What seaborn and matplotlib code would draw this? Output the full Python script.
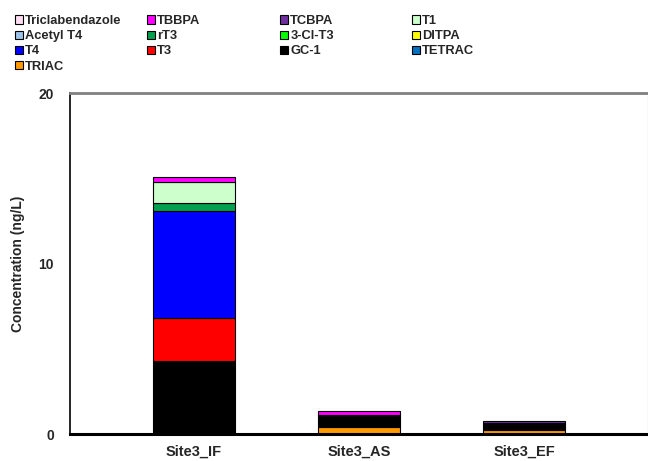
import matplotlib
matplotlib.use("Agg")
import matplotlib.pyplot as plt
import matplotlib.patches as mpatches
import numpy as np
import pandas as pd
import seaborn as sns

sites = ["Site3_IF", "Site3_AS", "Site3_EF"]

# Concentrations (ng/L) per compound at each site
triclabendazole = [0.0, 0.0, 0.0]
tbbpa = [0.31, 0.27, 0.0]
tcbpa = [0.0, 0.0, 0.12]
t1 = [1.21, 0.07, 0.0]
acetyl_t4 = [0.0, 0.0, 0.0]
rt3 = [0.50, 0.0, 0.0]
cl_t3 = [0.0, 0.0, 0.0]
ditpa = [0.0, 0.0, 0.0]
t4 = [6.28, 0.0, 0.0]
t3 = [2.52, 0.0, 0.0]
gc1 = [4.26, 0.62, 0.43]
tetrac = [0.0, 0.0, 0.0]
triac = [0.0, 0.41, 0.23]

compounds = ["Triclabendazole", "TBBPA", "TCBPA", "T1", "Acetyl T4", "rT3",
             "3-Cl-T3", "DITPA", "T4", "T3", "GC-1", "TETRAC", "TRIAC"]
series = [triclabendazole, tbbpa, tcbpa, t1, acetyl_t4, rt3,
          cl_t3, ditpa, t4, t3, gc1, tetrac, triac]
colors = ["#FFDDF4", "#FF00FF", "#7030A0", "#CCFFCC", "#9DC3E6", "#00A050",
          "#00FF00", "#FFFF00", "#0000FF", "#FF0000", "#000000", "#0070C0",
          "#FF9900"]

sns.set_style("white")
plt.rcParams["font.family"] = ["Liberation Sans", "DejaVu Sans"]
plt.rcParams["font.weight"] = "bold"

fig = plt.figure(figsize=(6.48, 4.61), dpi=100)
ax = fig.add_axes([70 / 648, 27 / 461, 578 / 648, 341 / 461])

# Stack from the bottom of the legend upwards
bottom = np.zeros(len(sites))
for name, vals, col in reversed(list(zip(compounds, series, colors))):
    vals = np.asarray(vals, dtype=float)
    mask = vals > 0
    if mask.any():
        df = pd.DataFrame({"site": np.array(sites)[mask], "value": vals[mask]})
        sns.barplot(data=df, x="site", y="value", order=sites, color=col,
                    width=0.5, bottom=bottom[mask], edgecolor="black",
                    linewidth=0.8, saturation=1, errorbar=None, ax=ax)
    bottom = bottom + vals

ax.set_xlim(-0.75, 2.75)
ax.set_ylim(0, 20)
ax.set_yticks([0, 10, 20])
ax.set_xlabel("")
ax.set_ylabel("Concentration (ng/L)", fontsize=10, fontweight="bold", labelpad=10)
ax.tick_params(axis="y", length=0, pad=11.5, labelsize=10)
ax.tick_params(axis="x", length=0, pad=8, labelsize=10.5)
for lab in ax.get_xticklabels() + ax.get_yticklabels():
    lab.set_fontweight("bold")

ax.spines["left"].set_color("black")
ax.spines["left"].set_linewidth(1.2)
ax.spines["bottom"].set_color("black")
ax.spines["bottom"].set_linewidth(2.2)
ax.spines["top"].set_color("#808080")
ax.spines["top"].set_linewidth(2.0)
ax.spines["right"].set_color("#E0E0E0")
ax.spines["right"].set_linewidth(1.0)

# Legend laid out as four fixed-width columns
ncol = 4
col_x = [15, 147, 280, 412]
for c in range(ncol):
    idx = list(range(c, len(compounds), ncol))
    handles = [mpatches.Patch(facecolor=colors[i], edgecolor="black",
                              linewidth=0.8, label=compounds[i]) for i in idx]
    fig.legend(handles=handles, loc="upper left",
               bbox_to_anchor=(col_x[c] / 648, 1 - 15 / 461),
               frameon=False, ncol=1, borderaxespad=0, borderpad=0,
               handlelength=0.6, handleheight=0.6, handletextpad=0.2,
               labelspacing=0.25, prop={"size": 9.3, "weight": "bold"})

fig.savefig("out.png", dpi=100)
